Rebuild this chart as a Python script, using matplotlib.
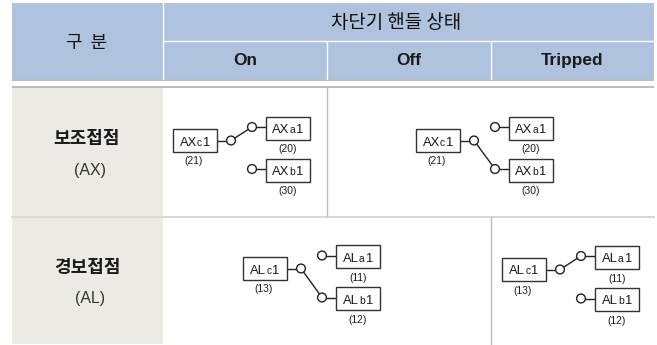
import matplotlib
matplotlib.use('Agg')
import matplotlib.pyplot as plt
from matplotlib.patches import Rectangle, Circle

KR = ['Noto Sans CJK KR', 'DejaVu Sans']
LAT = ['Liberation Sans', 'DejaVu Sans']

# textos da tabela
corner = '구  분'
group_title = '차단기 핸들 상태'
states = ['On', 'Off', 'Tripped']
row_names = ['보조접점', '경보접점']
row_codes = ['(AX)', '(AL)']

# pinos: prefixo, numeros (c, a, b), contato fechado
prefixes = ['AX', 'AX', 'AL', 'AL']
numbers = [('(21)', '(20)', '(30)'), ('(21)', '(20)', '(30)'),
           ('(13)', '(11)', '(12)'), ('(13)', '(11)', '(12)')]
closed = ['a', 'b', 'b', 'a']

HEAD = '#b0c3de'
SIDE = '#ebeae5'
LINE = '#bdbdbd'
INK = '#1a1a1a'

fig = plt.figure(figsize=(6.57, 3.45), dpi=100)
ax = fig.add_axes([0, 0, 1, 1])
ax.set_xlim(0, 657)
ax.set_ylim(345, 0)
ax.axis('off')
rend = fig.canvas.get_renderer()


def rect(x0, y0, x1, y1, **kw):
    ax.add_patch(Rectangle((x0, y0), x1 - x0, y1 - y0, **kw))


def boxlabel(xc, y, pre, suf):
    # letra pequena no meio, como no original
    parts = [(pre, 9.4), (suf[0], 7.4), (suf[1], 9.4)]
    objs = [ax.text(0, y, s, ha='left', va='baseline', family=LAT, fontsize=fs, color=INK)
            for s, fs in parts]
    wid = [o.get_window_extent(rend).width for o in objs]
    x = xc - sum(wid) / 2
    for o, w in zip(objs, wid):
        o.set_x(x)
        x += w


def switch(cx, cy, ax_, ay, by, pre, nums, on):
    # cx,cy canto do bloco c; ax_ esquerda dos blocos a/b; ay,by topo
    w, h = 44, 23
    for (x, y, suf) in [(cx, cy, 'c1'), (ax_, ay, 'a1'), (ax_, by, 'b1')]:
        rect(x, y, x + w, y + h, fc='white', ec='#333333', lw=1.0, zorder=3)
        boxlabel(x + w / 2 - 0.5, y + h / 2 + 5, pre, suf)
    for (x, y, s) in [(cx + 21, cy + h + 9.5, nums[0]), (ax_ + 22, ay + h + 10, nums[1]), (ax_ + 22, by + h + 10, nums[2])]:
        ax.text(x, y, s, ha='center', va='center', family=LAT, fontsize=7.4, color=INK)

    p0 = (ax_ - 35, cy + h / 2)
    pa = (ax_ - 14, ay + h / 2 - 1)
    pb = (ax_ - 14, by + h / 2 - 1)
    ax.plot([cx + w, p0[0]], [p0[1], p0[1]], color='#222222', lw=1.0, zorder=2)
    ax.plot([pa[0], ax_], [pa[1], pa[1]], color='#222222', lw=1.0, zorder=2)
    ax.plot([pb[0], ax_], [pb[1], pb[1]], color='#222222', lw=1.0, zorder=2)
    end = pa if on == 'a' else pb
    ax.plot([p0[0], end[0]], [p0[1], end[1]], color='#222222', lw=1.0, zorder=2)
    for p in (p0, pa, pb):
        ax.add_patch(Circle(p, 4.4, fc='white', ec='#222222', lw=1.0, zorder=4))


# cabecalho
rect(12, 3, 654, 79, fc=HEAD, ec='none')
ax.plot([163, 163], [3, 79], color='white', lw=1)
ax.plot([163, 654], [41, 41], color='white', lw=1)
ax.plot([327, 327], [41, 79], color='white', lw=1)
ax.plot([490.5, 490.5], [41, 79], color='white', lw=1)
rect(12, 79, 654, 80.5, fc=LINE, ec='none')
rect(12, 86, 654, 88, fc=LINE, ec='none')

ax.text(87, 43, corner, ha='center', va='center', family=KR, fontsize=13, color='#111111')
ax.text(396, 22.5, group_title, ha='center', va='center', family=KR, fontsize=13.6, color='#111111')
for xc, s in zip([245, 408.5, 572], states):
    ax.text(xc, 60.5, s, ha='center', va='center', family=LAT, fontsize=12.4, fontweight='bold', color=INK)

# coluna esquerda e grades
rect(12, 88, 163, 344, fc=SIDE, ec='none')
ax.plot([163, 654], [216.5, 216.5], color='#cfcfcf', lw=1.2)
ax.plot([12, 163], [216.5, 216.5], color='#d8d8d2', lw=1.2)
ax.plot([327, 327], [88, 216], color=LINE, lw=1)
ax.plot([491, 491], [217, 344], color=LINE, lw=1)

for yn, yc, n, c in zip([138.5, 267], [171, 299], row_names, row_codes):
    ax.text(87, yn, n, ha='center', va='center', family=KR, fontsize=13, fontweight='bold', color=INK)
    ax.text(90, yc, c, ha='center', va='center', family=LAT, fontsize=11.4, color='#333333')

# os quatro diagramas
corners = [(173, 129, 266, 116.5, 158.5), (416, 129, 509, 116.5, 158.5),
           (243, 257, 336, 245, 287), (502, 258, 595, 245.5, 288)]
for k in range(4):
    cx, cy, ax_, ay, by = corners[k]
    switch(cx, cy, ax_, ay, by, prefixes[k], numbers[k], closed[k])

fig.savefig('out.png', dpi=100)
